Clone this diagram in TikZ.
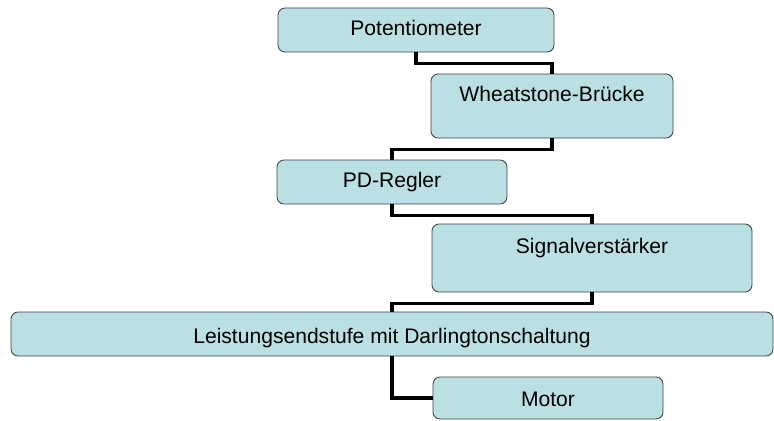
\documentclass[tikz,border=0pt]{standalone}
\usepackage{fontspec}
\setmainfont{Liberation Sans}
\definecolor{boxfill}{RGB}{187,224,227}
\tikzset{
  blk/.style={draw=black!75, line width=0.6pt, fill=boxfill, rounded corners=5pt,
    inner xsep=0pt, inner ysep=0pt, font=\fontsize{15}{18}\selectfont,
    text height=0.69cm, text depth=0.41cm},
  tall/.style={text depth=#1},
  low/.style={text height=0.79cm, text depth=#1},
  link/.style={line width=2.2pt}
}
\begin{document}
\begin{tikzpicture}
\useasboundingbox (0,0) rectangle (19.35,10.5);
% The blocks
\node[blk, minimum width=6.9cm] at (10.4, 9.75)  (Poti)    {Potentiometer};
\node[blk, minimum width=6.05cm, tall=0.91cm] at (13.8, 7.85)  (Bruecke) {Wheatstone-Brücke};
\node[blk, minimum width=5.75cm] at (9.8, 5.95)  (Regler)  {PD-Regler};
\node[blk, minimum width=8cm, text height=0.74cm, tall=0.96cm] at (14.8, 4.05)  (Verst)   {Signalverstärker};
\node[blk, minimum width=19.05cm, low=0.31cm] at (9.8, 2.15)  (Endstufe) {Leistungsendstufe mit Darlingtonschaltung};
\node[blk, minimum width=5.75cm, text height=0.74cm, tall=0.31cm] at (13.7, 0.55)  (Motor)   {Motor};
% Connections
\draw[link] (Poti.south) -- ++(0,-0.27) -| (Bruecke.north);
\draw[link] (Bruecke.south) -- ++(0,-0.28) -| (Regler.north);
\draw[link] (Regler.south) -- ++(0,-0.27) -| (Verst.north);
\draw[link] (Verst.south) -- ++(0,-0.27) -| (Endstufe.north);
\draw[link] (Endstufe.south) |- (Motor.west);
\end{tikzpicture}
\end{document}
